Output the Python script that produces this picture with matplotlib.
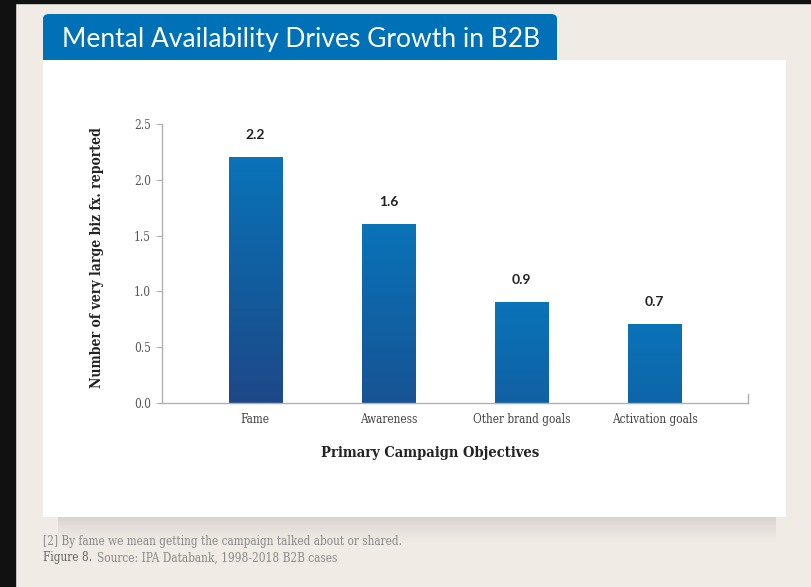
import matplotlib
matplotlib.use("Agg")
import matplotlib.pyplot as plt
import numpy as np
from matplotlib.patches import Rectangle, FancyBboxPatch
from matplotlib.colors import LinearSegmentedColormap

categories = ["Fame", "Awareness", "Other brand goals", "Activation goals"]
values = [2.2, 1.6, 0.9, 0.7]
yticks = [0.0, 0.5, 1.0, 1.5, 2.0, 2.5]

title = "Mental Availability Drives Growth in B2B"
ylabel = "Number of very large biz fx. reported"
xlabel = "Primary Campaign Objectives"
note1 = "[2] By fame we mean getting the campaign talked about or shared."
note2a = "Figure 8."
note2b = "Source: IPA Databank, 1998-2018 B2B cases"

SERIF = dict(family="DejaVu Serif", fontstretch="condensed")

W, H = 811, 587
fig = plt.figure(figsize=(W / 100, H / 100), dpi=100)
fig.patch.set_facecolor("#f0ebe5")

def fx(px):
    return px / W

def fy(py):
    return 1 - py / H

# black frame strips
fig.patches.append(Rectangle((0, 0), fx(15), 1, transform=fig.transFigure, color="#111111", zorder=0))
fig.patches.append(Rectangle((0, fy(3)), 1, 1 - fy(3), transform=fig.transFigure, color="#111111", zorder=0))

# soft shadow under panel
for i in range(28):
    a = 0.10 * (1 - i / 28) ** 1.5
    fig.patches.append(Rectangle((fx(58), fy(517 + i + 1)), fx(718), fy(517 + i) - fy(517 + i + 1),
                                 transform=fig.transFigure, color="#000000", alpha=a, lw=0, zorder=0.5))
# white panel
fig.patches.append(Rectangle((fx(43), fy(517)), fx(786 - 43), fy(60) - fy(517),
                             transform=fig.transFigure, color="white", lw=0, zorder=1))
# blue title tab
fig.patches.append(FancyBboxPatch((fx(43), fy(60)), fx(557 - 43), fy(14) - fy(60),
                                  boxstyle="round,pad=0,rounding_size=0.008", transform=fig.transFigure,
                                  color="#0071b6", lw=0, zorder=1.2))
fig.patches.append(Rectangle((fx(43), fy(60)), fx(557 - 43), fy(40) - fy(60),
                             transform=fig.transFigure, color="#0071b6", lw=0, zorder=1.3))
fig.text(fx(62), fy(39), title, color="white", fontsize=19, family="Lato",
         va="center", ha="left", zorder=3)

# axes
ax = fig.add_axes([fx(162), fy(403), fx(748 - 162), fy(124) - fy(403)])
ax.set_facecolor("none")
ax.set_zorder(2)

cmap = LinearSegmentedColormap.from_list("bg", ["#0a73b8", "#125d9f", "#1e4888"])
width = 0.4
x = np.arange(len(categories))
bars = ax.bar(x, values, width=width, color="none", zorder=2)
for b, v in zip(bars, values):
    x0 = b.get_x()
    n = 200
    t = np.linspace(v / 2.2, 0, n).reshape(-1, 1)  # bottom row first (dark), top light
    ax.imshow(t, extent=[x0, x0 + b.get_width(), 0, v], origin="lower",
              cmap=cmap, vmin=0, vmax=1, aspect="auto", zorder=2)
    ax.text(b.get_x() + b.get_width() / 2, v + 0.205, f"{v:.1f}", ha="center", va="center",
            fontsize=10, fontweight="bold", family="Lato", color="#222222")
ax.set_xlim(-0.7, 3.7)
ax.set_ylim(0, 2.5)

for s in ["top", "right"]:
    ax.spines[s].set_visible(False)
for s in ["left", "bottom"]:
    ax.spines[s].set_color("#b0b0b0")
    ax.spines[s].set_linewidth(1.0)
ax.plot([3.7, 3.7], [0, 0.08], color="#b0b0b0", lw=1.0, clip_on=False, zorder=3)

ax.set_yticks(yticks)
ax.set_yticklabels([f"{t:.1f}" for t in yticks], fontsize=8.5, color="#555555", **SERIF)
ax.tick_params(axis="y", length=4, color="#b0b0b0", pad=4)
ax.set_xticks(x)
ax.set_xticklabels(categories, fontsize=8.5, color="#444444", **SERIF)
ax.tick_params(axis="x", length=0, pad=7)

ax.set_xlabel(xlabel, fontsize=10.5, fontweight="bold", color="#222222", **SERIF)
ax.xaxis.set_label_coords((430 - 162) / 586, -(453 - 403) / 279, transform=ax.transAxes)
ax.xaxis.label.set_va("center")
ax.set_ylabel(ylabel, fontsize=10, fontweight="bold", color="#222222", **SERIF)
ax.yaxis.set_label_coords(-(162 - 97) / 586, (403 - 258) / 279, transform=ax.transAxes)
ax.yaxis.label.set_va("center")

fig.text(fx(43), fy(542), note1, fontsize=8.5, color="#8a8a8a", va="center", **SERIF)
fig.text(fx(43), fy(558), note2a, fontsize=8.5, color="#666666", va="center", **SERIF)
fig.text(fx(97), fy(558), note2b, fontsize=8.5, color="#8a8a8a", va="center", **SERIF)

fig.savefig("out.png", dpi=100, facecolor=fig.get_facecolor())
